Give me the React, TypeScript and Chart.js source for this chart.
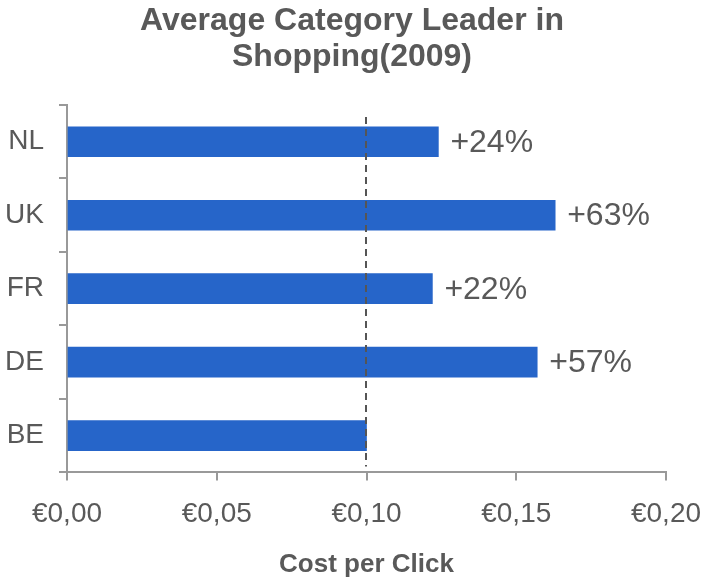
import React, { useEffect, useRef } from 'react';
import { Chart, registerables } from 'chart.js';

Chart.register(...registerables);

const categories = ['NL', 'UK', 'FR', 'DE', 'BE'];
const costPerClick = [0.124, 0.163, 0.122, 0.157, 0.1];
const changeLabels = ['+24%', '+63%', '+22%', '+57%', ''];
const referenceValue = 0.1;
const xMin = 0;
const xMax = 0.2;
const xStep = 0.05;
const titleLines = ['Average Category Leader in', 'Shopping(2009)'];

const FONT = 'Arial, "Liberation Sans", sans-serif';
const TEXT = '#595959';
const AXIS = '#999999';
const BAR = '#2665C9';

const titlePlugin = {
  id: 'centeredTitle',
  afterDraw(chart: any) {
    const { ctx } = chart;
    ctx.save();
    ctx.font = `bold 32px ${FONT}`;
    ctx.fillStyle = TEXT;
    ctx.textAlign = 'center';
    ctx.textBaseline = 'alphabetic';
    titleLines.forEach((line, i) => {
      ctx.fillText(line, 352, 30 + i * 36);
    });
    ctx.restore();
  },
};

const labelPlugin = {
  id: 'valueLabels',
  afterDatasetsDraw(chart: any) {
    const { ctx } = chart;
    const meta = chart.getDatasetMeta(0);
    ctx.save();
    ctx.font = `32px ${FONT}`;
    ctx.fillStyle = TEXT;
    ctx.textAlign = 'left';
    ctx.textBaseline = 'middle';
    meta.data.forEach((bar: any, i: number) => {
      const t = changeLabels[i];
      if (!t) return;
      ctx.fillText(t, bar.x + 12, bar.y + 1);
    });
    ctx.restore();
  },
};

const refLinePlugin = {
  id: 'refLine',
  afterDatasetsDraw(chart: any) {
    const { ctx, chartArea, scales } = chart;
    const x = Math.round(scales.x.getPixelForValue(referenceValue)) - 1;
    ctx.save();
    ctx.strokeStyle = '#555555';
    ctx.lineWidth = 2;
    ctx.setLineDash([7, 5]);
    ctx.beginPath();
    ctx.moveTo(x, chartArea.top + 12);
    ctx.lineTo(x, chartArea.bottom - 6);
    ctx.stroke();
    ctx.restore();
  },
};

export default function App() {
  const ref = useRef<HTMLCanvasElement | null>(null);

  useEffect(() => {
    if (!ref.current) return;
    const chart = new Chart(ref.current, {
      type: 'bar',
      data: {
        labels: categories,
        datasets: [
          {
            data: costPerClick,
            backgroundColor: BAR,
            barThickness: 30,
          },
        ],
      },
      options: {
        indexAxis: 'y',
        animation: false,
        responsive: false,
        maintainAspectRatio: false,
        layout: { padding: { left: 0, right: 45, top: 105, bottom: 0 } },
        plugins: {
          legend: { display: false },
          tooltip: { enabled: false },
          title: { display: false },
        },
        scales: {
          x: {
            type: 'linear',
            min: xMin,
            max: xMax,
            ticks: {
              stepSize: xStep,
              color: TEXT,
              font: { family: FONT, size: 28 },
              padding: 17,
              maxRotation: 0,
              callback: (v: any) => '€' + Number(v).toFixed(2).replace('.', ','),
            },
            grid: {
              drawOnChartArea: false,
              drawTicks: true,
              tickLength: 8,
              color: AXIS,
              lineWidth: 2,
            },
            border: { display: true, color: AXIS, width: 2 },
            title: {
              display: true,
              text: 'Cost per Click',
              color: TEXT,
              font: { family: FONT, size: 26, weight: 'bold', lineHeight: 1.0 },
              padding: { top: 4, bottom: 2 },
            },
            afterFit: (scale: any) => {
              scale.paddingLeft = 0;
              scale.paddingRight = 0;
            },
          },
          y: {
            ticks: {
              color: TEXT,
              font: { family: FONT, size: 28 },
              padding: 15,
            },
            grid: {
              drawOnChartArea: false,
              drawTicks: true,
              tickLength: 8,
              color: AXIS,
              lineWidth: 2,
              offset: true,
            },
            border: { display: true, color: AXIS, width: 2 },
            afterFit: (scale: any) => {
              scale.width = 67;
            },
          },
        },
      },
      plugins: [labelPlugin, refLinePlugin, titlePlugin],
    });
    return () => chart.destroy();
  }, []);

  return (
    <div style={{ position: 'fixed', left: 0, top: 0, width: 711, height: 580, background: '#fff' }}>
      <canvas ref={ref} width={711} height={580} style={{ display: 'block' }} />
    </div>
  );
}
